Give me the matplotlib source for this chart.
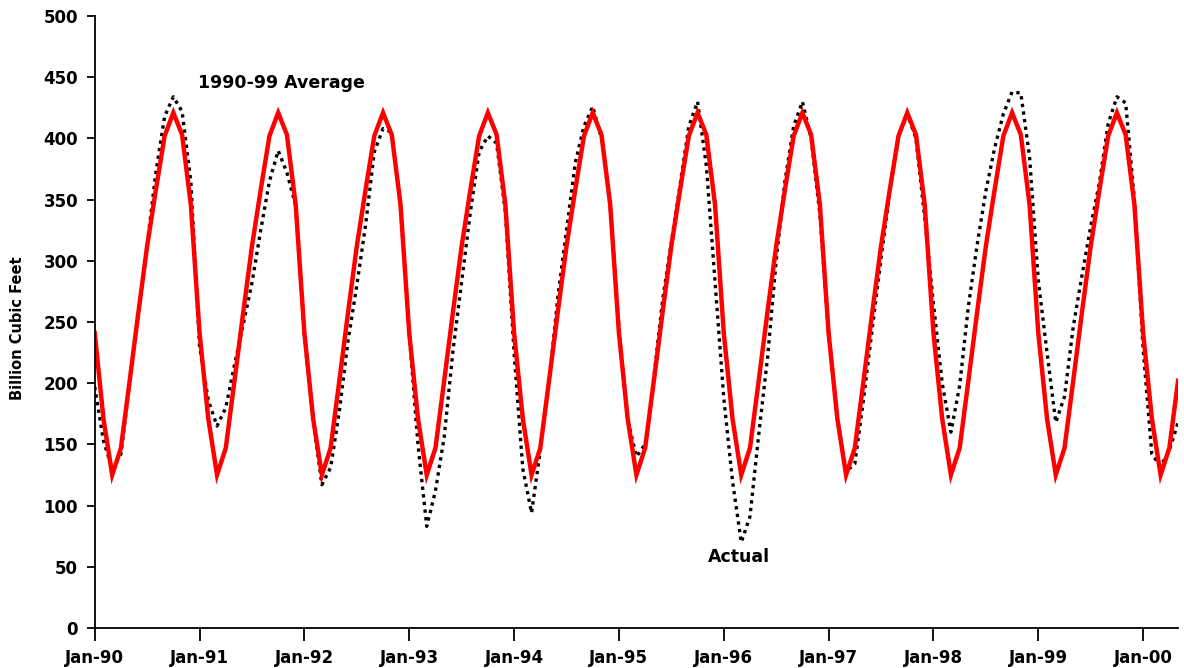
import numpy as np
import matplotlib
matplotlib.use("Agg")
import matplotlib.pyplot as plt

plt.rcParams['font.family'] = ['DejaVu Sans']
plt.rcParams['font.weight'] = 'bold'

# monthly working gas in storage, Jan-90 .. May-00 (billion cubic feet)
avg_month = [241, 171, 125, 147, 202, 258, 312, 358, 402, 421, 403, 346]

actual = [
    197, 153, 130, 142, 200, 255, 313, 372, 418, 434, 422, 365,   # 1990
    230, 186, 165, 180, 215, 248, 282, 325, 365, 390, 372, 345,   # 1991
    238, 170, 117, 131, 177, 235, 280, 329, 389, 408, 405, 345,   # 1992
    240, 150, 83, 112, 156, 226, 283, 340, 389, 402, 396, 340,    # 1993
    225, 130, 94, 145, 200, 270, 325, 380, 410, 426, 400, 345,    # 1994
    245, 170, 140, 150, 205, 268, 315, 362, 410, 430, 378, 283,   # 1995
    188, 120, 70, 91, 158, 220, 300, 365, 410, 430, 400, 338,     # 1996
    240, 172, 128, 134, 187, 245, 302, 356, 402, 420, 400, 335,   # 1997
    265, 200, 160, 198, 263, 313, 357, 392, 420, 438, 437, 385,   # 1998
    284, 225, 168, 189, 246, 288, 328, 364, 412, 434, 429, 350,   # 1999
    228, 142, 132, 145, 168,                                      # 2000
]

year_labels = ['Jan-90', 'Jan-91', 'Jan-92', 'Jan-93', 'Jan-94', 'Jan-95',
               'Jan-96', 'Jan-97', 'Jan-98', 'Jan-99', 'Jan-00']

n = len(actual)
months = np.arange(n)
average = [avg_month[i % 12] for i in range(n)]

fig = plt.figure(figsize=(11.84, 6.68), dpi=100)
ax = fig.add_axes([0.080, 0.060, 0.915, 0.916])

ax.plot(months, actual, color='black', lw=2.4, linestyle=(0, (1.0, 1.3)))
ax.plot(months, average, color='#ff0000', lw=3.2, solid_joinstyle='miter')

ax.set_xlim(0, n - 1)
ax.set_ylim(0, 500)
ax.set_yticks(np.arange(0, 501, 50))
ax.set_xticks(np.arange(0, n, 12))
ax.set_xticklabels(year_labels)

for s in ['top', 'right']:
    ax.spines[s].set_visible(False)
for s in ['left', 'bottom']:
    ax.spines[s].set_linewidth(1.3)

ax.tick_params(axis='y', direction='out', length=6, width=1.3, pad=6, labelsize=12)
ax.tick_params(axis='x', direction='out', length=9, width=1.3, pad=6, labelsize=12)
for lab in ax.get_xticklabels() + ax.get_yticklabels():
    lab.set_fontweight('bold')

ax.set_ylabel('Billion Cubic Feet', fontsize=10.5, fontweight='bold')
ax.yaxis.set_label_coords(-0.064, 0.49)

ax.text(21.4, 445, '1990-99 Average', fontsize=12.5, fontweight='bold',
        ha='center', va='center')
ax.text(73.7, 58, 'Actual', fontsize=12.5, fontweight='bold',
        ha='center', va='center')

fig.savefig('out.png', dpi=100)
